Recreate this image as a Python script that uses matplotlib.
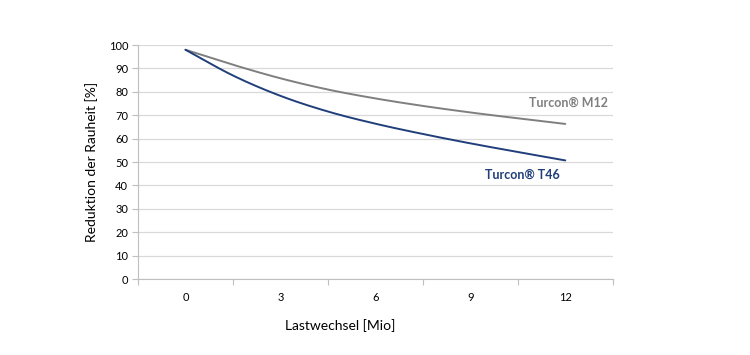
import numpy as np
import matplotlib
matplotlib.use("Agg")
import matplotlib.pyplot as plt

plt.rcParams['font.family'] = ['Lato', 'DejaVu Sans']

# Daten, Lastwechsel in Mio
lastwechsel = [0, 1.5, 3, 4.5, 6, 7.5, 9, 10.5, 12]
m12 = [98, 91.6, 85.8, 81, 77.2, 74, 71.2, 68.7, 66.3]
t46 = [98, 87, 78.3, 71.6, 66.4, 62, 58, 54.3, 50.7]
kategorien = [0, 3, 6, 9, 12]

GRAU = '#7f7f7f'
BLAU = '#203f7a'


def glatt(x, y, n=30):
    """Catmull-Rom-Glättung wie bei Excel-Linien."""
    x = np.asarray(x, dtype=float)
    y = np.asarray(y, dtype=float)
    px = np.concatenate([[2 * x[0] - x[1]], x, [2 * x[-1] - x[-2]]])
    py = np.concatenate([[2 * y[0] - y[1]], y, [2 * y[-1] - y[-2]]])
    xs, ys = [], []
    t = np.linspace(0, 1, n)
    for i in range(1, len(px) - 2):
        for p, out in ((px, xs), (py, ys)):
            p0, p1, p2, p3 = p[i - 1], p[i], p[i + 1], p[i + 2]
            out.extend(0.5 * (2 * p1 + (-p0 + p2) * t
                              + (2 * p0 - 5 * p1 + 4 * p2 - p3) * t ** 2
                              + (-p0 + 3 * p1 - 3 * p2 + p3) * t ** 3))
    return np.array(xs), np.array(ys)


fig = plt.figure(figsize=(7.5, 3.55), dpi=100)
ax = fig.add_axes([0.184, 0.214, 0.633, 0.659])

for werte, farbe in ((m12, GRAU), (t46, BLAU)):
    xs, ys = glatt(lastwechsel, werte)
    ax.plot(xs, ys, color=farbe, lw=1.4, solid_capstyle='round', zorder=3)

schritt = kategorien[1] - kategorien[0]
ax.set_xlim(kategorien[0] - schritt / 2, kategorien[-1] + schritt / 2)
ax.set_ylim(0, 100)
ax.set_yticks(range(0, 101, 10))
ax.yaxis.grid(True, color='#d9d9d9', lw=0.9)
ax.set_axisbelow(True)

# Kategorien-Achse: Striche zwischen den Kategorien
grenzen = [k - schritt / 2 for k in kategorien] + [kategorien[-1] + schritt / 2]
ax.set_xticks(grenzen)
ax.set_xticklabels([])
ax.set_xticks(kategorien, minor=True)
ax.set_xticklabels([str(k) for k in kategorien], minor=True)
ax.tick_params(axis='x', which='major', length=4, color='#bfbfbf', direction='out')
ax.tick_params(axis='x', which='minor', length=0, labelsize=8, pad=9, colors='black')
ax.tick_params(axis='y', length=4, color='#bfbfbf', labelsize=8, pad=3)

for s in ('top', 'right'):
    ax.spines[s].set_visible(False)
for s in ('left', 'bottom'):
    ax.spines[s].set_color('#bfbfbf')

ax.set_ylabel('Reduktion der Rauheit [%]', fontsize=10, labelpad=8)
fig.text(340 / 750, 1 - 326 / 355, 'Lastwechsel [Mio]', fontsize=10,
         ha='center', va='center')

ax.text(10.86, 75.2, 'Turcon® M12', color=GRAU, fontsize=9, fontweight='bold',
        va='center', ha='left')
ax.text(9.45, 44.4, 'Turcon® T46', color=BLAU, fontsize=9, fontweight='bold',
        va='center', ha='left')

fig.savefig('out.png', dpi=100, facecolor='white')
